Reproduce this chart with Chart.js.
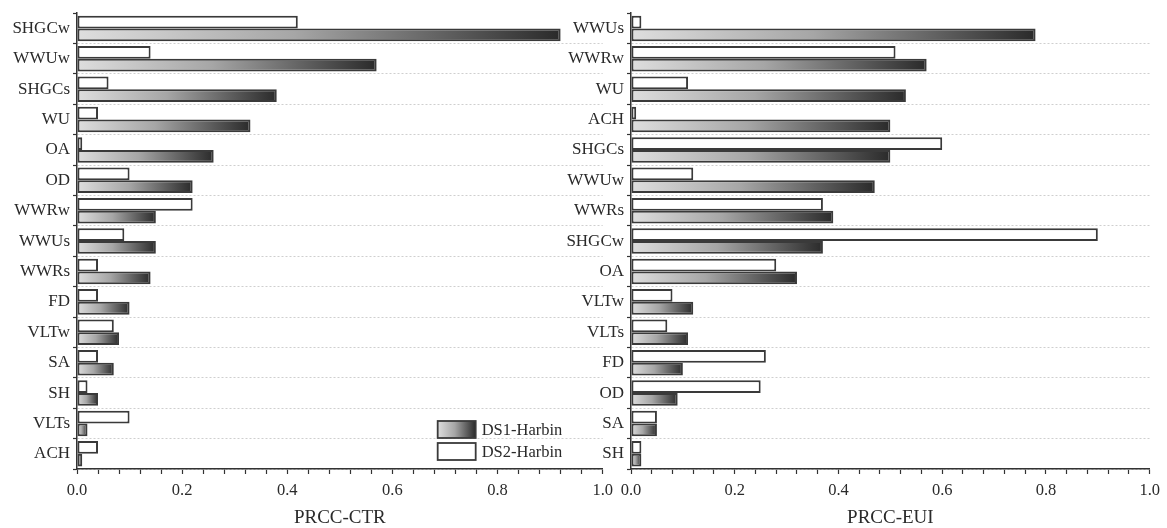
<!DOCTYPE html>
<html>
<head>
<meta charset="utf-8">
<script src="https://cdn.jsdelivr.net/npm/chart.js@4"></script>
<style>
  html, body { margin: 0; padding: 0; background: #fff; }
  .wrap { position: relative; width: 1167px; height: 528px; }
  .panel { position: absolute; top: 0; height: 528px; }
  #ctr { left: 0; width: 620px; }
  #eui { left: 560px; width: 607px; }
</style>
</head>
<body>
<div class="wrap">
  <div class="panel" id="ctr"><canvas id="ctrChart"></canvas></div>
  <div class="panel" id="eui"><canvas id="euiChart"></canvas></div>
</div>
<script>
// PRCC for cooling/total ratio
const ctrLabels = ['SHGCw', 'WWUw', 'SHGCs', 'WU', 'OA', 'OD', 'WWRw', 'WWUs', 'WWRs', 'FD', 'VLTw', 'SA', 'SH', 'VLTs', 'ACH'];
const ctrDS1 = [0.92, 0.57, 0.38, 0.33, 0.26, 0.22, 0.15, 0.15, 0.14, 0.10, 0.08, 0.07, 0.04, 0.02, 0.01];
const ctrDS2 = [0.42, 0.14, 0.06, 0.04, 0.01, 0.10, 0.22, 0.09, 0.04, 0.04, 0.07, 0.04, 0.02, 0.10, 0.04];

// PRCC for energy use intensity
const euiLabels = ['WWUs', 'WWRw', 'WU', 'ACH', 'SHGCs', 'WWUw', 'WWRs', 'SHGCw', 'OA', 'VLTw', 'VLTs', 'FD', 'OD', 'SA', 'SH'];
const euiDS1 = [0.78, 0.57, 0.53, 0.50, 0.50, 0.47, 0.39, 0.37, 0.32, 0.12, 0.11, 0.10, 0.09, 0.05, 0.02];
const euiDS2 = [0.02, 0.51, 0.11, 0.01, 0.60, 0.12, 0.37, 0.90, 0.28, 0.08, 0.07, 0.26, 0.25, 0.05, 0.02];

const xTicks = ['0.0', '0.2', '0.4', '0.6', '0.8', '1.0'];
const seriesNames = ['DS1-Harbin', 'DS2-Harbin'];

const SERIF = '"Liberation Serif", "Times New Roman", serif';
const INK = '#2a2a2a';
const EDGE = '#3a3a3a';

function greyRamp(c2d, x0, x1) {
  const g = c2d.createLinearGradient(x0, 0, x1, 0);
  g.addColorStop(0, '#dedede');
  g.addColorStop(0.45, '#a6a6a6');
  g.addColorStop(1, '#2a2a2a');
  return g;
}

// each DS1 bar gets its own light-to-dark ramp along its length
function ds1Fill(ctx) {
  const chart = ctx.chart;
  const xs = chart.scales.x;
  if (!xs || !chart.chartArea) return '#999';
  const x0 = xs.getPixelForValue(0);
  const x1 = xs.getPixelForValue(ctx.raw);
  return greyRamp(chart.ctx, x0, Math.max(x1, x0 + 1));
}

const legendBox = {
  id: 'legendBox',
  afterDatasetsDraw(chart, args, opts) {
    if (!opts.show) return;
    const c = chart.ctx;
    const a = chart.chartArea;
    const bx = a.right - 165, bw = 38, bh = 17;
    const rows = [a.bottom - 48, a.bottom - 26];
    c.save();
    c.lineWidth = 1.8;
    c.strokeStyle = EDGE;
    rows.forEach((y, i) => {
      c.fillStyle = i === 0 ? greyRamp(c, bx, bx + bw) : '#ffffff';
      c.fillRect(bx, y, bw, bh);
      c.strokeRect(bx, y, bw, bh);
      c.fillStyle = INK;
      c.font = '16.5px ' + SERIF;
      c.textBaseline = 'middle';
      c.textAlign = 'left';
      c.fillText(seriesNames[i], bx + bw + 6, y + bh / 2 + 1);
    });
    c.restore();
  }
};

function makeChart(id, labels, ds1, ds2, title, axisWidth, rightPad, showLegend) {
  return new Chart(document.getElementById(id), {
    type: 'bar',
    data: {
      labels: labels,
      datasets: [
        {
          label: seriesNames[1],
          data: ds2,
          backgroundColor: '#ffffff',
          borderColor: EDGE,
          borderWidth: 2,
          borderSkipped: false,
        },
        {
          label: seriesNames[0],
          data: ds1,
          backgroundColor: ds1Fill,
          borderColor: EDGE,
          borderWidth: 2,
          borderSkipped: false,
        },
      ],
    },
    options: {
      indexAxis: 'y',
      responsive: true,
      maintainAspectRatio: false,
      animation: false,
      datasets: { bar: { categoryPercentage: 0.84, barPercentage: 1.0 } },
      layout: { padding: { top: 12, right: rightPad, left: 0, bottom: 0 } },
      plugins: {
        legend: { display: false },
        tooltip: { enabled: false },
        legendBox: { show: showLegend },
      },
      scales: {
        x: {
          min: 0,
          max: 1,
          afterFit: (s) => { s.height = 59; },
          afterBuildTicks: (s) => {
            // minor ticks every 0.04, labelled every 0.2
            s.ticks = [];
            for (let i = 0; i <= 25; i++) s.ticks.push({ value: i * 0.04 });
          },
          ticks: {
            autoSkip: false,
            maxRotation: 0,
            padding: 7,
            color: INK,
            font: { family: SERIF, size: 16.5 },
            callback: (v, i) => (i % 5 === 0 ? xTicks[i / 5] : ''),
          },
          grid: { drawOnChartArea: false, drawTicks: true, tickLength: 5, tickColor: '#333', tickWidth: 1.2 },
          border: { color: '#333', width: 1.5 },
          title: {
            display: true,
            text: title,
            color: INK,
            font: { family: SERIF, size: 19, lineHeight: 1.0 },
            padding: { top: 0, bottom: 0 },
          },
        },
        y: {
          afterFit: (s) => { s.width = axisWidth; },
          ticks: {
            autoSkip: false,
            padding: 3,
            color: INK,
            font: { family: SERIF, size: 17 },
          },
          grid: {
            offset: true,
            color: (c) => (c.index === 0 ? 'rgba(0,0,0,0)' : '#cfcfcf'),
            lineWidth: 1,
            tickLength: 4,
            tickColor: '#333',
            tickWidth: 1.2,
          },
          border: { color: '#333', width: 1.5, dash: [2, 2] },
        },
      },
    },
    plugins: [legendBox],
  });
}

makeChart('ctrChart', ctrLabels, ctrDS1, ctrDS2, 'PRCC-CTR', 77, 17, true);
makeChart('euiChart', euiLabels, euiDS1, euiDS2, 'PRCC-EUI', 71, 11, false);
</script>
</body>
</html>
